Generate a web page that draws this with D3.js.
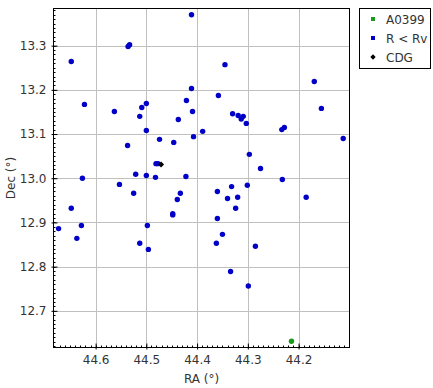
<!DOCTYPE html>
<html><head><meta charset="utf-8">
<script src="https://cdn.jsdelivr.net/npm/d3@7"></script>
<style>body{margin:0;background:#fff;}svg{display:block;font-family:"DejaVu Sans",sans-serif;}</style>
</head><body>
<script>
const xTicks = [44.6, 44.5, 44.4, 44.3, 44.2];
const yTicks = [12.7, 12.8, 12.9, 13.0, 13.1, 13.2, 13.3];
const seriesNames = ["A0399", "R < Rv", "CDG"];
const a0399RA = [44.214];
const a0399Dec = [12.631];
const cdgRA = [44.471];
const cdgDec = [13.031];
const memRA = [44.411,44.536,44.533,44.648,44.345,44.169,44.411,44.358,44.421,44.622,44.500,44.509,44.155,44.563,44.409,44.330,44.513,44.319,44.309,44.313,44.437,44.303,44.228,44.233,44.389,44.500,44.407,44.112,44.474,44.446,44.537,44.297,44.481,44.477,44.275,44.521,44.500,44.422,44.482,44.626,44.232,44.301,44.553,44.332,44.360,44.525,44.433,44.185,44.320,44.340,44.439,44.324,44.648,44.448,44.448,44.360,44.628,44.498,44.673,44.350,44.637,44.513,44.362,44.285,44.496,44.334,44.299];
const memDec = [13.370,13.298,13.302,13.264,13.257,13.219,13.203,13.187,13.176,13.167,13.169,13.160,13.158,13.151,13.151,13.146,13.140,13.142,13.140,13.134,13.133,13.124,13.115,13.110,13.106,13.108,13.094,13.090,13.088,13.081,13.074,13.054,13.033,13.033,13.022,13.009,13.006,13.004,13.002,13.000,12.997,12.984,12.986,12.981,12.970,12.966,12.966,12.957,12.957,12.954,12.952,12.932,12.932,12.920,12.917,12.909,12.893,12.893,12.886,12.873,12.864,12.853,12.853,12.846,12.839,12.789,12.756];

const W = 433, H = 388;
const L = 53.5, R = 349.5, T = 8.5, B = 347.5;
const svg = d3.select("body").append("svg").attr("width", W).attr("height", H);
const x = d3.scaleLinear().domain([44.683, 44.0996]).range([L, R]);
const y = d3.scaleLinear().domain([12.617, 13.384]).range([B, T]);

// grid
const g = svg.append("g");
g.selectAll("line.gx").data(xTicks).join("line")
  .attr("x1", d => Math.round(x(d)) + 0.5).attr("x2", d => Math.round(x(d)) + 0.5)
  .attr("y1", T).attr("y2", B).attr("stroke", "#c0c0c0").attr("stroke-width", 1);
g.selectAll("line.gy").data(yTicks).join("line")
  .attr("y1", d => Math.round(y(d)) + 0.5).attr("y2", d => Math.round(y(d)) + 0.5)
  .attr("x1", L).attr("x2", R).attr("stroke", "#c0c0c0").attr("stroke-width", 1);

// minor ticks
const xMinor = d3.range(4411, 4468).map(v => v / 100);
const yMinor = d3.range(1262, 1339).map(v => v / 100);
svg.append("g").selectAll("line").data(xMinor).join("line")
  .attr("x1", d => Math.round(x(d)) + 0.5).attr("x2", d => Math.round(x(d)) + 0.5)
  .attr("y1", B).attr("y2", B - 2).attr("stroke", "#000");
svg.append("g").selectAll("line").data(yMinor).join("line")
  .attr("y1", d => Math.round(y(d)) + 0.5).attr("y2", d => Math.round(y(d)) + 0.5)
  .attr("x1", L).attr("x2", L + 2).attr("stroke", "#000");

// axes
const xAxis = d3.axisBottom(x).tickValues(xTicks).tickFormat(d3.format(".1f")).tickSizeInner(4).tickSizeOuter(0).tickPadding(4);
const yAxis = d3.axisLeft(y).tickValues(yTicks).tickFormat(d3.format(".1f")).tickSizeInner(4).tickSizeOuter(0).tickPadding(3);
const gx = svg.append("g").attr("transform", `translate(0,${B})`).call(xAxis);
const gy = svg.append("g").attr("transform", `translate(${L},0)`).call(yAxis);
[gx, gy].forEach(a => {
  a.select(".domain").remove();
  a.selectAll(".tick text").attr("font-size", 12).attr("fill", "#333").attr("font-family", "DejaVu Sans");
  a.selectAll(".tick line").attr("stroke", "#000");
});
gx.selectAll(".tick line").attr("y1", -4).attr("y2", 2);
gy.selectAll(".tick line").attr("x1", 4).attr("x2", -2);

// frame
svg.append("rect").attr("x", L).attr("y", T).attr("width", R - L).attr("height", B - T)
  .attr("fill", "none").attr("stroke", "#000").attr("stroke-width", 1);

// axis titles
svg.append("text").attr("x", (L + R) / 2).attr("y", 383).attr("text-anchor", "middle")
  .attr("font-size", 12).attr("fill", "#333").text("RA (°)");
svg.append("text").attr("transform", `translate(15,${(T + B) / 2}) rotate(-90)`).attr("text-anchor", "middle")
  .attr("font-size", 12).attr("fill", "#333").text("Dec (°)");

// data
const members = memRA.map((r, i) => ({ra: r, dec: memDec[i]}));
svg.append("g").selectAll("circle").data(members).join("circle")
  .attr("cx", d => x(d.ra)).attr("cy", d => y(d.dec)).attr("r", 2.7).attr("fill", "#0000c8");
svg.append("g").selectAll("circle").data(a0399RA.map((r, i) => ({ra: r, dec: a0399Dec[i]}))).join("circle")
  .attr("cx", d => x(d.ra)).attr("cy", d => y(d.dec)).attr("r", 2.7).attr("fill", "#1a9a1a");
const diamond = d3.symbol().type(d3.symbolSquare).size(18);
svg.append("g").selectAll("path").data(cdgRA.map((r, i) => ({ra: r, dec: cdgDec[i]}))).join("path")
  .attr("transform", d => `translate(${x(d.ra)},${y(d.dec)}) rotate(45)`).attr("d", diamond).attr("fill", "#000");

// legend
const lg = svg.append("g");
lg.append("rect").attr("x", 359.5).attr("y", 8.5).attr("width", 71).attr("height", 60)
  .attr("fill", "#fff").attr("stroke", "#000");
const colors = ["#1a9a1a", "#0000c8", "#000"];
seriesNames.forEach((name, i) => {
  const cy = 19 + i * 19;
  if (i < 2) lg.append("rect").attr("x", 371).attr("y", cy - 2).attr("width", 4).attr("height", 4).attr("fill", colors[i]);
  else lg.append("path").attr("transform", `translate(373,${cy}) rotate(45)`).attr("d", d3.symbol().type(d3.symbolSquare).size(14)).attr("fill", "#000");
  lg.append("text").attr("x", 386).attr("y", cy + 5).attr("font-size", 12).attr("fill", "#333").text(name);
});
</script>
</body></html>
